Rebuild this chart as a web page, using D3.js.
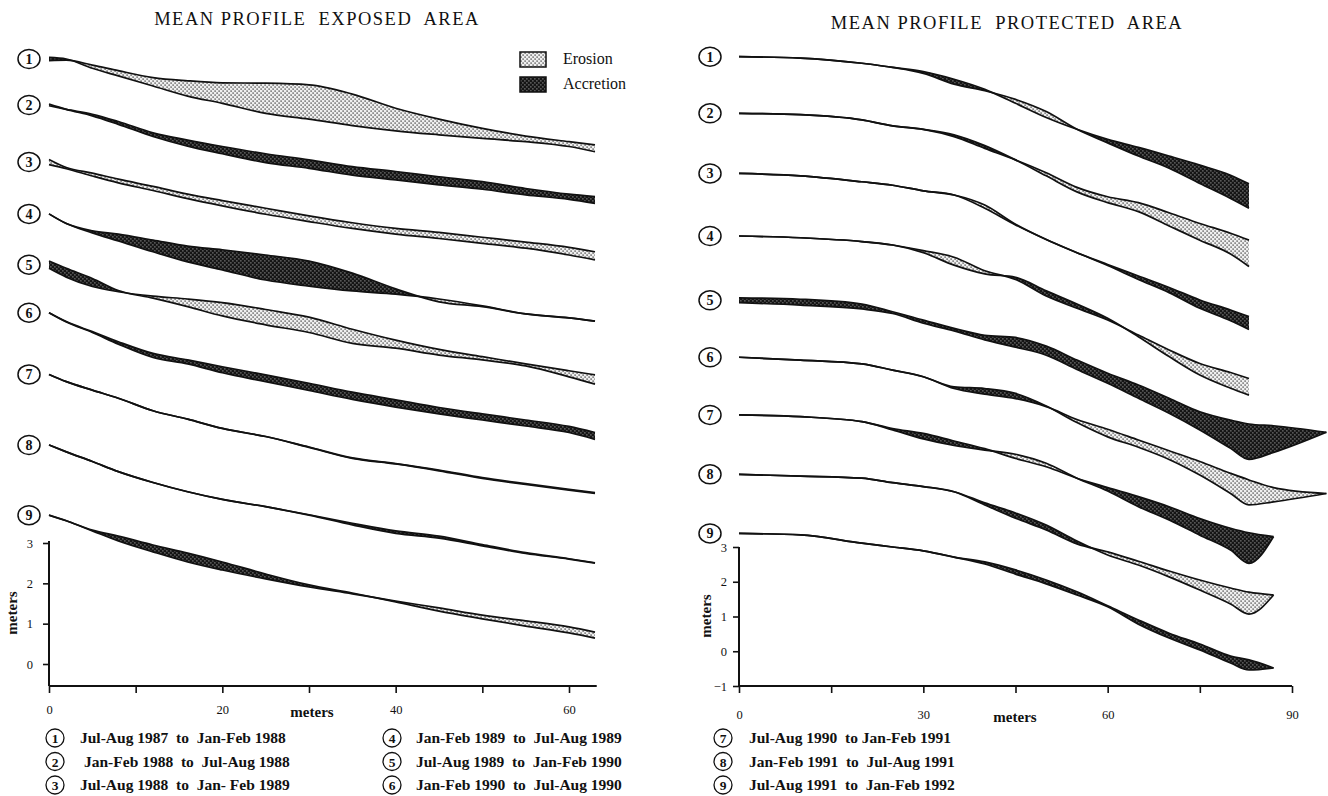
<!DOCTYPE html>
<html><head><meta charset="utf-8">
<script src="https://cdn.jsdelivr.net/npm/d3@7"></script>
<style>
body{margin:0;background:#fff;}
svg text{font-family:"Liberation Serif","Times New Roman",serif;fill:#111;}
</style></head><body>
<svg id="chart" width="1328" height="796"></svg>
<script>
// ---------------- DATA ----------------
const exposedX = [0,2,5,8,12,16,20,25,30,35,40,45,50,55,60,63];
const exposedBefore = [
 [14.96,14.97,14.85,14.71,14.54,14.46,14.41,14.40,14.36,14.13,13.78,13.51,13.28,13.09,12.95,12.87],
 [13.88,13.75,13.59,13.38,13.08,12.84,12.65,12.43,12.29,12.12,12.00,11.88,11.77,11.63,11.52,11.42],
 [12.51,12.31,12.17,12.02,11.84,11.65,11.49,11.30,11.11,10.94,10.80,10.70,10.58,10.46,10.33,10.22],
 [11.16,10.92,10.69,10.49,10.22,9.97,9.77,9.52,9.37,9.25,9.17,9.05,8.88,8.68,8.58,8.50],
 [9.81,9.59,9.36,9.23,9.12,9.05,8.96,8.79,8.60,8.30,8.03,7.80,7.62,7.44,7.27,7.17],
 [8.71,8.48,8.22,7.93,7.60,7.44,7.22,7.00,6.78,6.56,6.37,6.20,6.05,5.90,5.74,5.57],
 [7.18,7.00,6.79,6.59,6.28,6.07,5.84,5.64,5.37,5.10,4.96,4.79,4.60,4.45,4.31,4.23],
 [5.43,5.26,5.02,4.77,4.50,4.27,4.08,3.90,3.69,3.45,3.24,3.12,2.93,2.74,2.60,2.50],
 [3.69,3.55,3.30,3.05,2.78,2.53,2.33,2.11,1.91,1.74,1.56,1.39,1.21,1.07,0.92,0.79]
];
const exposedAfter = [
 [15.04,15.00,14.77,14.58,14.33,14.08,13.90,13.65,13.51,13.35,13.22,13.12,13.03,12.95,12.83,12.70],
 [13.84,13.75,13.63,13.45,13.17,12.99,12.83,12.65,12.50,12.33,12.21,12.08,11.96,11.79,11.65,11.59],
 [12.38,12.28,12.10,11.93,11.74,11.54,11.36,11.15,10.97,10.80,10.66,10.55,10.43,10.31,10.14,10.02],
 [11.16,10.92,10.74,10.66,10.51,10.36,10.27,10.14,9.99,9.69,9.30,8.98,8.86,8.68,8.58,8.50],
 [9.99,9.81,9.56,9.26,9.07,8.86,8.63,8.41,8.22,7.95,7.83,7.66,7.54,7.39,7.12,6.94],
 [8.71,8.49,8.24,7.99,7.70,7.54,7.37,7.17,6.96,6.74,6.55,6.36,6.20,6.05,5.89,5.74],
 [7.18,7.00,6.79,6.59,6.28,6.07,5.84,5.64,5.38,5.11,4.97,4.81,4.62,4.47,4.33,4.25],
 [5.43,5.26,5.02,4.77,4.50,4.27,4.08,3.90,3.70,3.49,3.30,3.17,2.96,2.76,2.61,2.51],
 [3.69,3.55,3.32,3.17,2.95,2.75,2.53,2.23,1.96,1.76,1.54,1.31,1.12,0.94,0.77,0.64]
];

const protectedBaseX = [0,10,20,25,30,35,40,45,50,55,60,65,70,75,80,83];
const protectedX = [
 protectedBaseX, protectedBaseX, protectedBaseX, protectedBaseX,
 protectedBaseX.concat([87,95.6]),
 protectedBaseX.concat([87,95.6]),
 protectedBaseX.concat([87]),
 protectedBaseX.concat([87]),
 protectedBaseX.concat([87])
];
const protectedBefore = [
 [17.11,17.07,16.92,16.80,16.63,16.32,16.13,15.88,15.53,15.02,14.63,14.25,13.90,13.46,13.03,12.75],
 [15.48,15.44,15.29,15.12,15.02,14.81,14.47,14.14,13.77,13.35,13.08,12.91,12.62,12.31,12.03,11.83],
 [13.75,13.68,13.51,13.41,13.25,13.13,12.84,12.29,11.85,11.47,11.10,10.70,10.32,9.87,9.51,9.26],
 [11.95,11.90,11.79,11.69,11.53,11.34,10.95,10.70,10.22,9.87,9.53,9.10,8.67,8.28,8.02,7.85],
 [10.03,9.96,9.85,9.72,9.44,9.22,8.96,8.75,8.52,8.11,7.71,7.28,6.85,6.37,5.84,5.52,5.72,6.30],
 [8.46,8.38,8.27,8.09,7.90,7.56,7.40,7.27,7.04,6.67,6.39,6.08,5.77,5.46,5.12,4.93,4.71,4.54],
 [6.80,6.75,6.61,6.37,6.11,5.92,5.79,5.67,5.41,4.98,4.61,4.16,3.78,3.34,2.91,2.53,3.30],
 [5.09,5.04,4.98,4.85,4.74,4.59,4.21,3.83,3.49,3.09,2.86,2.59,2.31,2.05,1.82,1.70,1.62],
 [3.39,3.35,3.11,3.00,2.89,2.71,2.51,2.22,1.94,1.62,1.28,0.78,0.38,0.04,-0.34,-0.54,-0.48]
];
const protectedAfter = [
 [17.11,17.07,16.92,16.80,16.68,16.46,16.17,15.77,15.36,15.02,14.73,14.50,14.25,13.99,13.70,13.45],
 [15.48,15.44,15.29,15.12,15.02,14.86,14.55,14.14,13.68,13.22,12.91,12.65,12.24,11.83,11.43,11.07],
 [13.75,13.68,13.51,13.41,13.25,13.13,12.75,12.27,11.85,11.47,11.13,10.80,10.47,10.11,9.82,9.63],
 [11.95,11.90,11.79,11.69,11.47,11.11,10.86,10.76,10.37,9.99,9.58,9.05,8.48,7.95,7.57,7.37],
 [10.17,10.13,9.99,9.77,9.53,9.29,9.09,9.03,8.78,8.38,8.00,7.66,7.28,6.89,6.65,6.54,6.49,6.30],
 [8.46,8.38,8.27,8.09,7.90,7.61,7.56,7.42,7.06,6.58,6.17,5.87,5.52,5.07,4.54,4.21,4.30,4.54],
 [6.80,6.75,6.61,6.41,6.27,6.05,5.83,5.55,5.31,4.98,4.71,4.45,4.16,3.82,3.54,3.41,3.30],
 [5.09,5.04,4.98,4.85,4.74,4.59,4.27,3.98,3.63,3.17,2.77,2.48,2.14,1.76,1.36,1.07,1.62],
 [3.39,3.35,3.11,3.00,2.89,2.71,2.57,2.34,2.05,1.71,1.31,0.90,0.52,0.21,-0.14,-0.25,-0.48]
];

const profileNumbers = ["1","2","3","4","5","6","7","8","9"];
const periodLabels = [
 "Jul-Aug 1987  to  Jan-Feb 1988",
 "Jan-Feb 1988  to  Jul-Aug 1988",
 "Jul-Aug 1988  to  Jan- Feb 1989",
 "Jan-Feb 1989  to  Jul-Aug 1989",
 "Jul-Aug 1989  to  Jan-Feb 1990",
 "Jan-Feb 1990  to  Jul-Aug 1990",
 "Jul-Aug 1990  to Jan-Feb 1991",
 "Jan-Feb 1991  to  Jul-Aug 1991",
 "Jul-Aug 1991  to  Jan-Feb 1992"
];
const exposedXTicks = [0,10,20,30,40,50,60];
const exposedXLabels = [0,20,40,60];
const exposedYTicks = [0,1,2,3];
const protectedXTicks = [0,15,30,45,60,75,90];
const protectedXLabels = [0,30,60,90];
const protectedYTicks = [-1,0,1,2,3];
const titles = ["MEAN PROFILE  EXPOSED  AREA","MEAN PROFILE  PROTECTED  AREA"];
const changeTypes = ["Erosion","Accretion"];

// ---------------- DRAW ----------------
const W = 1328, H = 796;
const svg = d3.select("#chart");
const defs = svg.append("defs");

function makePattern(id, bg, dot, size){
  const p = defs.append("pattern").attr("id",id).attr("patternUnits","userSpaceOnUse")
    .attr("width",4).attr("height",4);
  p.append("rect").attr("width",4).attr("height",4).attr("fill",bg);
  [[0.4,0.4],[2.4,2.4]].forEach(([a,b])=>{
    p.append("rect").attr("x",a).attr("y",b).attr("width",size).attr("height",size).attr("fill",dot);
  });
}
makePattern("pat-erosion","#efefef","#555",1.4);
makePattern("pat-accretion","#151515","#c8c8c8",1.0);

const xL = d3.scaleLinear().domain([0,60]).range([49,569]);
const yL = d3.scaleLinear().domain([0,3]).range([664,543]);
const xR = d3.scaleLinear().domain([0,90]).range([739,1292]);
const yR = d3.scaleLinear().domain([-1,3]).range([686,547]);

const curve = d3.curveMonotoneX;
let clipId = 0;

function drawProfiles(xsList, befores, afters, x, y, circleX){
  const g = svg.append("g");
  befores.forEach((bef,i)=>{
    const xs = xsList[i];
    const aft = afters[i];
    const pts = xs.map((d,j)=>({x:d,b:bef[j],a:aft[j]}));
    const band = d3.area().curve(curve).x(d=>x(d.x)).y0(d=>y(d.b)).y1(d=>y(d.a));
    const below = d3.area().curve(curve).x(d=>x(d.x)).y0(d=>y(d.b)).y1(H);
    const above = d3.area().curve(curve).x(d=>x(d.x)).y0(0).y1(d=>y(d.b));
    const idB = "clipB"+(clipId), idA = "clipA"+(clipId); clipId++;
    defs.append("clipPath").attr("id",idB).append("path").attr("d",below(pts));
    defs.append("clipPath").attr("id",idA).append("path").attr("d",above(pts));
    g.append("path").attr("d",band(pts)).attr("fill","url(#pat-erosion)").attr("clip-path",`url(#${idB})`);
    g.append("path").attr("d",band(pts)).attr("fill","url(#pat-accretion)").attr("clip-path",`url(#${idA})`);
    const line = key => d3.line().curve(curve).x(d=>x(d.x)).y(d=>y(d[key]));
    g.append("path").attr("d",line("b")(pts)).attr("fill","none").attr("stroke","#111").attr("stroke-width",1.7);
    g.append("path").attr("d",line("a")(pts)).attr("fill","none").attr("stroke","#111").attr("stroke-width",1.7);
    const cy = y((bef[0]+aft[0])/2);
    g.append("ellipse").attr("cx",circleX).attr("cy",cy).attr("rx",11).attr("ry",9.5)
      .attr("fill","#fff").attr("stroke","#111").attr("stroke-width",1.5);
    g.append("text").attr("x",circleX).attr("y",cy+5).attr("text-anchor","middle")
      .attr("font-size",14).attr("font-weight","bold").text(profileNumbers[i]);
  });
}

drawProfiles(exposedX.map(()=>exposedX), exposedBefore, exposedAfter, xL, yL, 29);
drawProfiles(protectedX, protectedBefore, protectedAfter, xR, yR, 710);

// ----- axes -----
function styleAxis(sel){
  sel.selectAll("line").attr("stroke","#111").attr("stroke-width",1.6);
  sel.selectAll("text").attr("font-size",12.5).attr("fill","#111")
     .style("font-family","'Liberation Serif','Times New Roman',serif");
}
const yBottomL = yL(-0.545);
const gxL = svg.append("g").attr("transform",`translate(0,${yBottomL})`)
  .call(d3.axisBottom(xL).tickValues(exposedXTicks).tickSize(7).tickPadding(12)
    .tickFormat(d=> exposedXLabels.includes(d)? d : ""));
gxL.select(".domain").remove(); styleAxis(gxL);
svg.append("line").attr("x1",xL(0)).attr("x2",xL(63.2)).attr("y1",yBottomL).attr("y2",yBottomL)
  .attr("stroke","#111").attr("stroke-width",2);
const gyL = svg.append("g").attr("transform",`translate(${xL(0)},0)`)
  .call(d3.axisLeft(yL).tickValues(exposedYTicks).tickSize(6).tickPadding(10).tickFormat(d3.format("d")));
gyL.select(".domain").remove(); styleAxis(gyL);
svg.append("line").attr("x1",xL(0)).attr("x2",xL(0)).attr("y1",yL(3)-2).attr("y2",yBottomL)
  .attr("stroke","#111").attr("stroke-width",2);

const yBottomR = yR(-1);
const gxR = svg.append("g").attr("transform",`translate(0,${yBottomR})`)
  .call(d3.axisBottom(xR).tickValues(protectedXTicks).tickSize(7).tickPadding(17)
    .tickFormat(d=> protectedXLabels.includes(d)? d : ""));
gxR.select(".domain").remove(); styleAxis(gxR);
svg.append("line").attr("x1",xR(0)).attr("x2",xR(90)).attr("y1",yBottomR).attr("y2",yBottomR)
  .attr("stroke","#111").attr("stroke-width",2);
const gyR = svg.append("g").attr("transform",`translate(${xR(0)},0)`)
  .call(d3.axisLeft(yR).tickValues(protectedYTicks).tickSize(6).tickPadding(6).tickFormat(d3.format("d")));
gyR.select(".domain").remove(); styleAxis(gyR);
svg.append("line").attr("x1",xR(0)).attr("x2",xR(0)).attr("y1",yR(3)).attr("y2",yBottomR)
  .attr("stroke","#111").attr("stroke-width",2);

// axis titles
svg.append("text").attr("x",312).attr("y",717).attr("text-anchor","middle")
  .attr("font-size",15).attr("font-weight","bold").text("meters");
svg.append("text").attr("x",1015).attr("y",722).attr("text-anchor","middle")
  .attr("font-size",15).attr("font-weight","bold").text("meters");
svg.append("text").attr("transform","translate(17,613) rotate(-90)").attr("text-anchor","middle")
  .attr("font-size",15).attr("font-weight","bold").text("meters");
svg.append("text").attr("transform","translate(711,616) rotate(-90)").attr("text-anchor","middle")
  .attr("font-size",15).attr("font-weight","bold").text("meters");

// titles
svg.append("text").attr("x",317).attr("y",25).attr("text-anchor","middle")
  .attr("font-size",18.5).attr("letter-spacing",1.5).style("white-space","pre").text(titles[0]);
svg.append("text").attr("x",1007).attr("y",29).attr("text-anchor","middle")
  .attr("font-size",18.5).attr("letter-spacing",1.5).style("white-space","pre").text(titles[1]);

// erosion / accretion key
changeTypes.forEach((t,i)=>{
  const yy = 52 + i*25;
  svg.append("rect").attr("x",520).attr("y",yy).attr("width",26).attr("height",15)
    .attr("fill", i===0? "url(#pat-erosion)":"url(#pat-accretion)").attr("stroke","#111").attr("stroke-width",1.5);
  svg.append("text").attr("x",563).attr("y",yy+12).attr("font-size",16).text(t);
});

// period legend
const legendPos = [
 [55,80],[55,84],[55,80],[392,416],[392,416],[392,416],[723,749],[723,749],[723,749]
];
periodLabels.forEach((t,i)=>{
  const row = i%3;
  const cy = 738 + row*23.5;
  const [cx,tx] = legendPos[i];
  svg.append("circle").attr("cx",cx).attr("cy",cy).attr("r",9)
    .attr("fill","#fff").attr("stroke","#111").attr("stroke-width",1.3);
  svg.append("text").attr("x",cx).attr("y",cy+5).attr("text-anchor","middle")
    .attr("font-size",13.5).attr("font-weight","bold").text(profileNumbers[i]);
  svg.append("text").attr("x",tx).attr("y",cy+5).attr("font-size",15.5).attr("font-weight","bold")
    .style("white-space","pre").text(t);
});
</script>
</body></html>
